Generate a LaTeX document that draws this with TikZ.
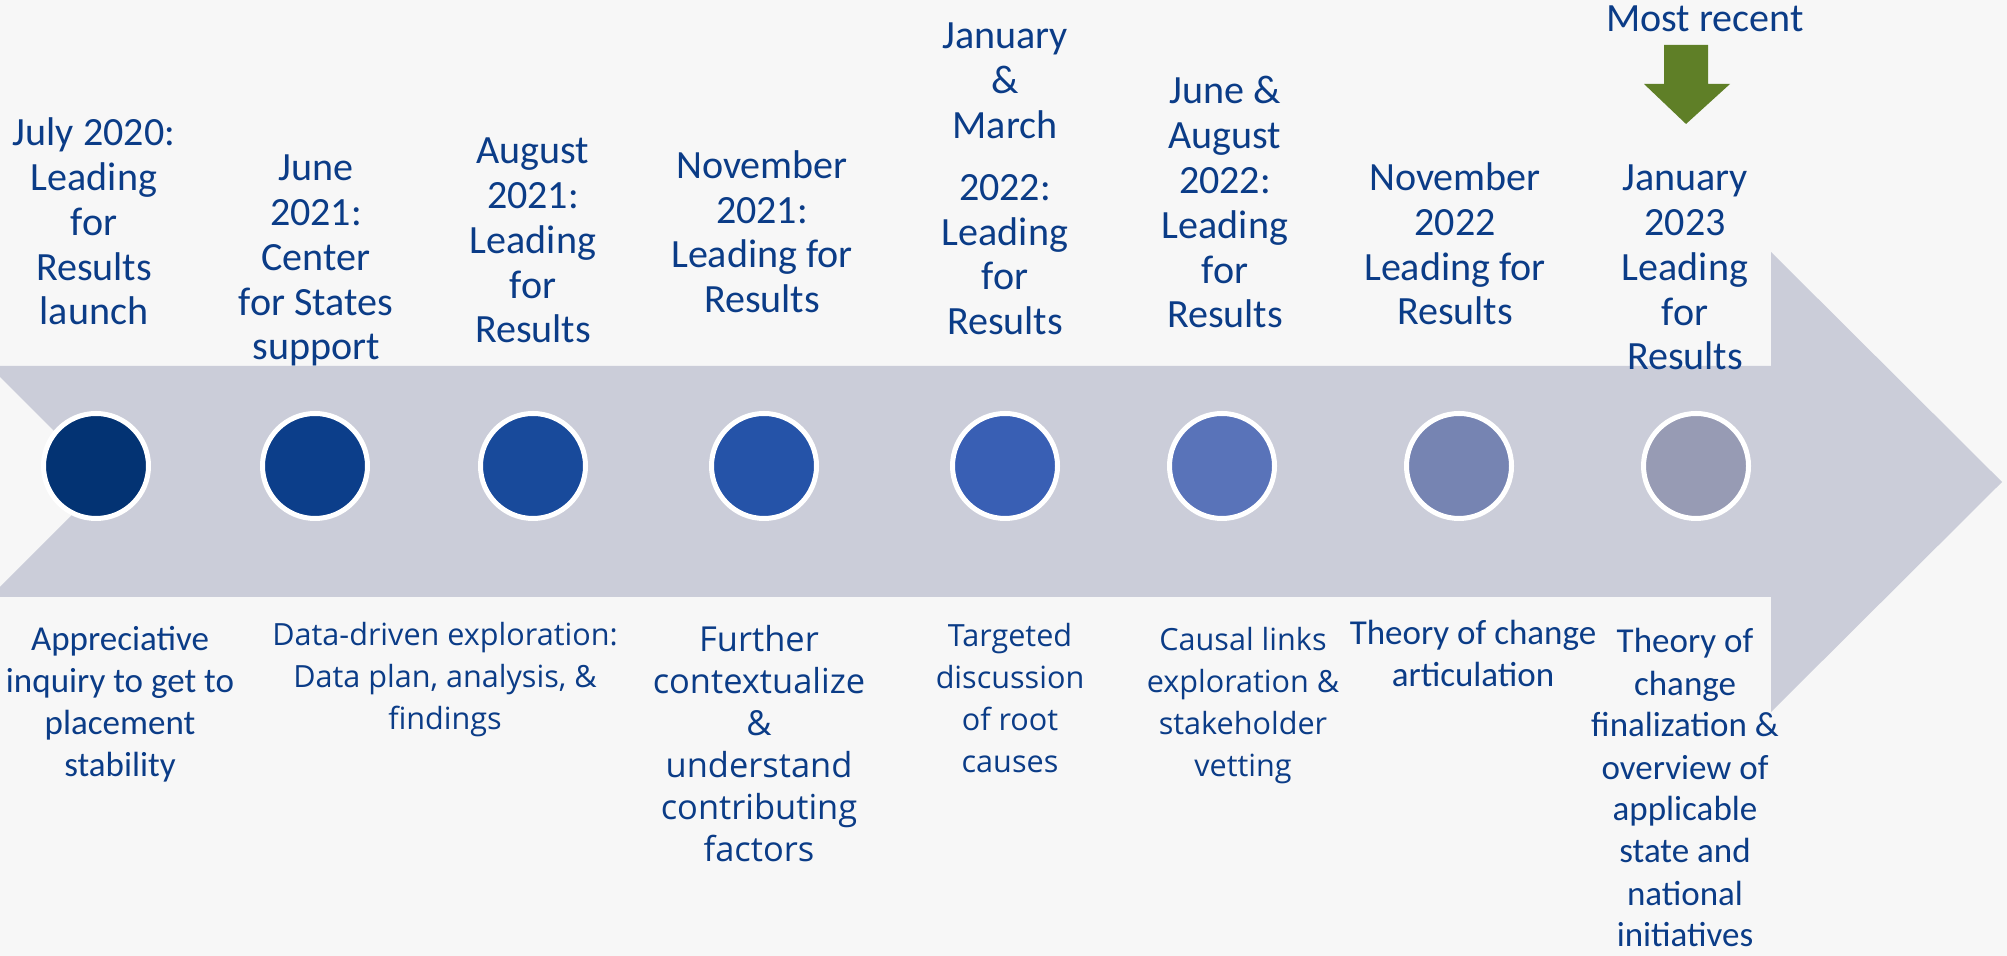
\documentclass[tikz,border=0pt]{standalone}
\usepackage{fontspec}
\setmainfont{Carlito}
\newfontfamily\breit{Open Sans}
\definecolor{hgrund}{HTML}{F7F7F7}
\definecolor{band}{HTML}{CBCDD9}
\definecolor{schrift}{HTML}{0B3C87}
\definecolor{gruen}{HTML}{5F7F27}
\definecolor{c1}{HTML}{033373}
\definecolor{c2}{HTML}{0C3E8A}
\definecolor{c3}{HTML}{184A9B}
\definecolor{c4}{HTML}{2553A8}
\definecolor{c5}{HTML}{395FB4}
\definecolor{c6}{HTML}{5973B9}
\definecolor{c7}{HTML}{7684B2}
\definecolor{c8}{HTML}{979BB4}
\tikzset{
  datum/.style={anchor=base, align=center, inner sep=0pt, text=schrift,
    font=\fontsize{11.4pt}{12.8pt}\selectfont},
  schritt/.style={anchor=base, align=center, inner sep=0pt, text=schrift,
    font=\fontsize{9.96pt}{11.95pt}\selectfont},
  schrittb/.style={schritt, font=\breit\fontsize{8.7pt}{11.95pt}\selectfont},
  punkt/.style={circle, draw=white, line width=0.05cm, minimum size=1.05cm, inner sep=0pt}
}
\begin{document}
\begin{tikzpicture}
        % Hintergrund
        \fill [hgrund] (0,0) rectangle (20.07,9.56);
        \useasboundingbox (0,0) rectangle (20.07,9.56);
        % Pfeil
        \fill [band] (0,5.90) -- (17.71,5.90) -- (17.71,7.04) -- (20.02,4.74)
              -- (17.71,2.44) -- (17.71,3.59) -- (0,3.59) -- (0,3.69)
              -- (1.05,4.74) -- (0,5.79) -- cycle;
        % Punkte
        \draw (0.96,4.90)  node (p1) [punkt, fill=c1] {};
        \draw (3.15,4.90)  node (p2) [punkt, fill=c2] {};
        \draw (5.33,4.90)  node (p3) [punkt, fill=c3] {};
        \draw (7.64,4.90)  node (p4) [punkt, fill=c4] {};
        \draw (10.05,4.90) node (p5) [punkt, fill=c5] {};
        \draw (12.22,4.90) node (p6) [punkt, fill=c6] {};
        \draw (14.59,4.90) node (p7) [punkt, fill=c7] {};
        \draw (16.96,4.90) node (p8) [punkt, fill=c8] {};
        % Daten oben (Koordinate = Grundlinie der letzten Zeile)
        \draw (0.94,6.31)  node (t1) [datum] {July 2020:\\Leading\\for\\Results\\launch};
        \draw (3.16,5.96)  node (t2) [datum] {June\\2021:\\Center\\for States\\support};
        \draw (5.33,6.13)  node (t3) [datum] {August\\2021:\\Leading\\for\\Results};
        \draw (7.62,6.43)  node (t4) [datum] {November\\2021:\\Leading for\\Results};
        \draw (10.05,6.21) node (t5) [datum] {January\\\&\\March\\[0.17cm]2022:\\Leading\\for\\Results};
        \draw (12.25,6.28) node (t6) [datum] {June \&\\August\\2022:\\Leading\\for\\Results};
        \draw (14.55,6.31) node (t7) [datum] {November\\2022\\Leading for\\Results};
        \draw (16.85,5.86) node (t8) [datum] {January\\2023\\Leading\\for\\Results};
        % Markierung
        \draw (17.05,9.24) node (neu) [datum] {Most recent};
        \fill [gruen] (16.64,9.11) -- (17.08,9.11) -- (17.08,8.72) -- (17.30,8.72)
              -- (16.86,8.32) -- (16.44,8.72) -- (16.64,8.72) -- cycle;
        % Schritte unten
        \draw (1.20,1.79)  node (s1) [schritt] {Appreciative\\inquiry to get to\\placement\\stability};
        \draw (4.45,2.26)  node (s2) [schrittb] {Data-driven exploration:\\Data plan, analysis, \&\\findings};
        \draw (7.59,0.94)  node (s4) [schrittb, font=\breit\fontsize{9.8pt}{11.95pt}\selectfont] {Further\\contextualize\\\&\\understand\\contributing\\factors};
        \draw (10.10,1.83) node (s5) [schrittb] {Targeted\\discussion\\of root\\causes};
        \draw (12.43,1.79) node (s6) [schrittb] {Causal links\\exploration \&\\stakeholder\\vetting};
        \draw (14.73,2.69) node (s7) [schritt] {Theory of change\\articulation};
        \draw (16.85,0.09) node (s8) [schritt] {Theory of\\change\\finalization \&\\overview of\\applicable\\state and\\national\\initiatives};
\end{tikzpicture}
\end{document}
